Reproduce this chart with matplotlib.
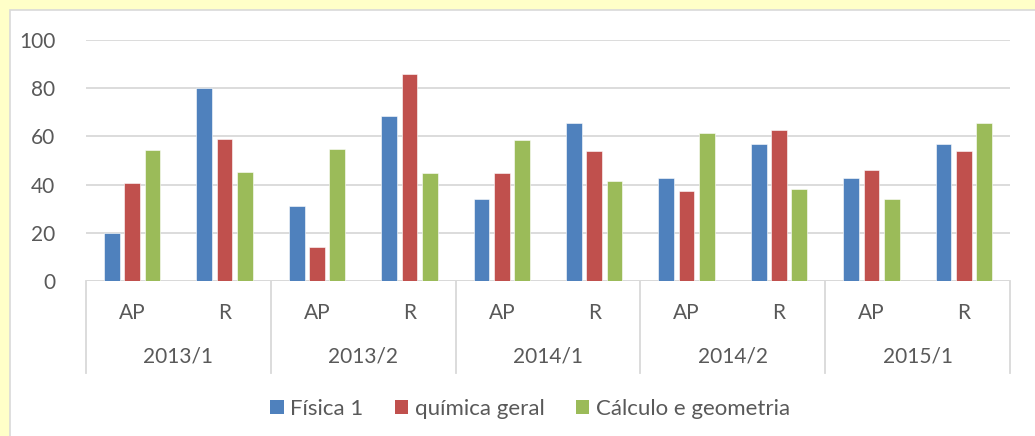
import numpy as np
import matplotlib.pyplot as plt
from matplotlib.patches import Rectangle, Patch
from matplotlib.transforms import blended_transform_factory

# data
semesters = ["2013/1", "2013/2", "2014/1", "2014/2", "2015/1"]
sub_labels = ["AP", "R"]
series_names = ["Física 1", "química geral", "Cálculo e geometria"]
fisica = [20, 80, 31, 68.6, 34.2, 65.6, 42.9, 56.9, 42.9, 56.9]
quimica = [40.7, 59, 14, 85.8, 45, 53.8, 37.4, 62.5, 46, 53.8]
calculo = [54.3, 45.3, 54.9, 44.9, 58.3, 41.3, 61.4, 38.2, 34.2, 65.4]
colors = ["#4F81BD", "#C0504D", "#9BBB59"]

plt.rcParams['font.family'] = ['Lato', 'DejaVu Sans']
text_color = "#595959"
grid_color = "#D9D9D9"
W, H = 1035, 436

fig = plt.figure(figsize=(W / 100, H / 100), dpi=100, facecolor="#FFFFC8")
# white chart area with thin grey frame
fig.patches.append(Rectangle((10 / W, -0.1), 1.1, 1.1 - 10 / H, transform=fig.transFigure,
                             facecolor="white", edgecolor=grid_color, lw=1.2, zorder=-5))

ax = fig.add_axes([86 / W, 155 / H, (1010 - 86) / W, 241 / H])
ax.set_zorder(2)
ax.set_facecolor("none")

x = np.arange(len(fisica))
width = 0.17
step = 0.22
for i, vals in enumerate([fisica, quimica, calculo]):
    ax.bar(x + (i - 1) * step, vals, width, color=colors[i], edgecolor="white",
           linewidth=0.4, zorder=3)

ax.set_xlim(-0.5, len(fisica) - 0.5)
ax.set_ylim(0, 100)
ax.set_yticks(range(0, 101, 20))
ax.tick_params(axis="y", length=0, pad=22, labelsize=15, labelcolor=text_color)
ax.set_xticks([])
ax.yaxis.grid(True, color=grid_color, lw=1.3, zorder=0)
for s in ax.spines.values():
    s.set_visible(False)
ax.axhline(0, color=grid_color, lw=1.3, zorder=2)

# two-level category axis
trans = blended_transform_factory(ax.transData, ax.transAxes)
for k in range(len(fisica)):
    ax.text(k, -0.133, sub_labels[k % 2], transform=trans, ha="center", va="center",
            fontsize=15, color=text_color)
for j, sem in enumerate(semesters):
    ax.text(2 * j + 0.5, -0.315, sem, transform=trans, ha="center", va="center",
            fontsize=15, color=text_color)
for b in np.arange(-0.5, len(fisica), 2):
    ax.plot([b, b], [0, -0.382], transform=trans, color=grid_color, lw=1.3, clip_on=False)

handles = [Patch(facecolor=c, label=n) for c, n in zip(colors, series_names)]
leg = fig.legend(handles=handles, loc="center", bbox_to_anchor=(530 / W, 1 - 409 / H), ncol=3,
                 frameon=False, fontsize=16, labelcolor=text_color, handlelength=0.6,
                 handleheight=0.6, handletextpad=0.3, columnspacing=1.4)
leg.set_zorder(3)

fig.savefig("out.png", dpi=100, facecolor=fig.get_facecolor())
